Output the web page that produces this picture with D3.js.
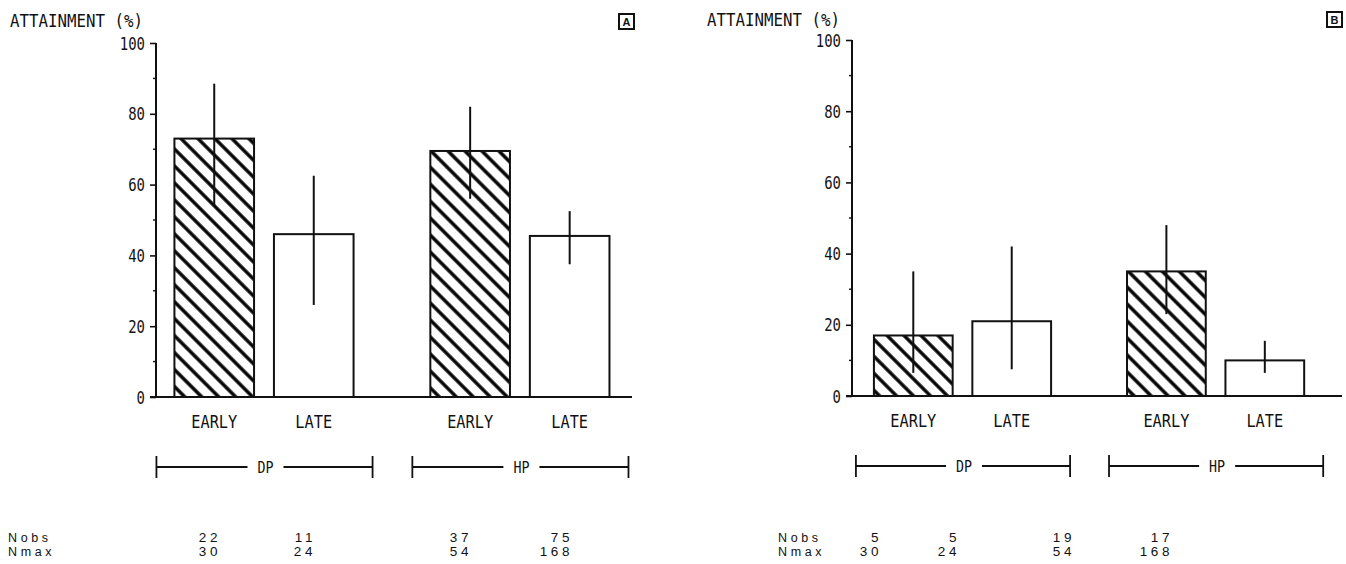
<!DOCTYPE html>
<html>
<head>
<meta charset="utf-8">
<script src="https://cdn.jsdelivr.net/npm/d3@7"></script>
<style>
  html, body { margin: 0; padding: 0; background: #fff; }
  svg { display: block; }
</style>
</head>
<body>
<svg id="chart" width="1346" height="564"></svg>
<script>
// ---- data ----
const groups = ["DP", "HP"];
const timings = ["EARLY", "LATE"];
const yTicks = [0, 20, 40, 60, 80, 100];
const yMinorTicks = [10, 30, 50, 70, 90];
const yTitle = "ATTAINMENT (%)";
const rowLabels = ["Nobs", "Nmax"];

// panel A: mean attainment with error bar limits (order: DP-EARLY, DP-LATE, HP-EARLY, HP-LATE)
const meanA = [73, 46, 69.5, 45.5];
const lowA  = [54, 26, 56, 37.5];
const highA = [88.5, 62.5, 82, 52.5];
const nobsA = [22, 11, 37, 75];
const nmaxA = [30, 24, 54, 168];

// panel B
const meanB = [17, 21, 35, 10];
const lowB  = [6.5, 7.5, 23, 6.5];
const highB = [35, 42, 48, 15.5];
const nobsB = [5, 5, 19, 17];
const nmaxB = [30, 24, 54, 168];

// ---- layout ----
const panels = [
  { tag: "A", mean: meanA, low: lowA, high: highA, nobs: nobsA, nmax: nmaxA,
    x0: 156, x1: 632, y0: 397, y1: 43, padOuter: 0.08, align: 0.45,
    titleX: 10, titleY: 27, tagX: 619, tagY: 14, rowX: 8,
    cols: [221, 316, 472, 573] },
  { tag: "B", mean: meanB, low: lowB, high: highB, nobs: nobsB, nmax: nmaxB,
    x0: 852, x1: 1342, y0: 396, y1: 40, padOuter: 0.118, align: 0.367,
    titleX: 707, titleY: 26, tagX: 1327, tagY: 12, rowX: 778,
    cols: [882, 960, 1075, 1173] }
];

const plotFont = "'DejaVu Sans Mono', 'Liberation Mono', monospace";
const tableFont = "'Liberation Sans', Arial, sans-serif";

const svg = d3.select("#chart");
const defs = svg.append("defs");

// diagonal hatch for the EARLY bars
defs.append("pattern")
  .attr("id", "hatch")
  .attr("patternUnits", "userSpaceOnUse")
  .attr("width", 12).attr("height", 12)
  .attr("patternTransform", "rotate(45)")
  .append("line")
  .attr("x1", -1).attr("y1", 6).attr("x2", 13).attr("y2", 6)
  .attr("stroke", "#000").attr("stroke-width", 3.4);

// condensed plotter-style text
function plotText(sel, str, size, advance) {
  return sel.text(str)
    .attr("font-family", plotFont)
    .attr("font-size", size)
    .attr("fill", "#111")
    .attr("textLength", str.length * advance)
    .attr("lengthAdjust", "spacingAndGlyphs");
}

panels.forEach(p => {
  const g = svg.append("g");
  const keys = [];
  groups.forEach(gr => timings.forEach(t => keys.push({ group: gr, timing: t })));
  const rows = keys.map((k, i) => ({ ...k, mean: p.mean[i], low: p.low[i], high: p.high[i],
                                      nobs: p.nobs[i], nmax: p.nmax[i], col: i }));

  const y = d3.scaleLinear().domain([0, 100]).range([p.y0, p.y1]);
  const xGroup = d3.scaleBand().domain(groups).range([p.x0, p.x1])
    .paddingInner(0.3).paddingOuter(p.padOuter).align(p.align);
  const xInner = d3.scaleBand().domain(timings).range([0, xGroup.bandwidth()])
    .paddingInner(0.2).paddingOuter(0);
  const barX = d => xGroup(d.group) + xInner(d.timing);
  const barC = d => barX(d) + xInner.bandwidth() / 2;
  const colX = d3.scaleOrdinal().domain(d3.range(4)).range(p.cols);

  // y axis
  const axis = d3.axisLeft(y).tickValues(yTicks).tickSize(6).tickPadding(5)
    .tickFormat(d3.format("d"));
  const ax = g.append("g").attr("transform", `translate(${p.x0},0)`).call(axis);
  ax.select(".domain").attr("stroke", "#111").attr("stroke-width", 2)
    .attr("d", `M0,${p.y0}V${p.y1}`);
  ax.selectAll(".tick line").attr("stroke", "#111").attr("stroke-width", 1.6);
  ax.selectAll(".tick text").each(function(d) {
    plotText(d3.select(this), String(d), 17, 8.4).attr("dy", "0.36em");
  });
  g.append("g").selectAll("line").data(yMinorTicks).join("line")
    .attr("x1", p.x0 - 3).attr("x2", p.x0)
    .attr("y1", d => y(d)).attr("y2", d => y(d))
    .attr("stroke", "#111").attr("stroke-width", 1.4);

  // title and panel tag
  plotText(g.append("text").attr("x", p.titleX).attr("y", p.titleY), yTitle, 17, 9.5);
  g.append("rect").attr("x", p.tagX).attr("y", p.tagY).attr("width", 15).attr("height", 15)
    .attr("fill", "none").attr("stroke", "#111").attr("stroke-width", 2);
  g.append("text").attr("x", p.tagX + 7.5).attr("y", p.tagY + 12)
    .attr("text-anchor", "middle").attr("font-family", tableFont)
    .attr("font-weight", "bold").attr("font-size", 11).attr("fill", "#111").text(p.tag);

  // bars
  g.append("g").selectAll("rect").data(rows).join("rect")
    .attr("x", barX)
    .attr("y", d => y(d.mean))
    .attr("width", xInner.bandwidth())
    .attr("height", d => y(0) - y(d.mean))
    .attr("fill", d => d.timing === "EARLY" ? "url(#hatch)" : "#fff")
    .attr("stroke", "#111").attr("stroke-width", 2);

  // baseline
  g.append("line").attr("x1", p.x0 - 6).attr("x2", p.x1)
    .attr("y1", y(0)).attr("y2", y(0))
    .attr("stroke", "#111").attr("stroke-width", 2);

  // error bars
  g.append("g").selectAll("line").data(rows).join("line")
    .attr("x1", barC).attr("x2", barC)
    .attr("y1", d => y(d.high)).attr("y2", d => y(d.low))
    .attr("stroke", "#111").attr("stroke-width", 2);

  // category labels
  g.append("g").selectAll("text").data(rows).join("text")
    .attr("x", barC).attr("y", y(0) + 31)
    .attr("text-anchor", "middle")
    .each(function(d) { plotText(d3.select(this), d.timing, 17, 9.2); });

  // group brackets
  const by = y(0) + 70;
  groups.forEach(gr => {
    const left = xGroup(gr) - 18, right = xGroup(gr) + xGroup.bandwidth() + 19;
    const mid = (left + right) / 2;
    const b = g.append("g").attr("stroke", "#111").attr("stroke-width", 1.8);
    b.append("line").attr("x1", left).attr("x2", mid - 17).attr("y1", by).attr("y2", by);
    b.append("line").attr("x1", mid + 19).attr("x2", right).attr("y1", by).attr("y2", by);
    b.append("line").attr("x1", left).attr("x2", left).attr("y1", by - 11).attr("y2", by + 11);
    b.append("line").attr("x1", right).attr("x2", right).attr("y1", by - 11).attr("y2", by + 11);
    plotText(g.append("text").attr("x", mid + 1).attr("y", by + 6).attr("text-anchor", "middle"),
      gr, 15, 8);
  });

  // count table
  const rowY = [542, 556];
  rowLabels.forEach((lab, r) => {
    g.append("text").attr("x", p.rowX).attr("y", rowY[r])
      .attr("font-family", tableFont).attr("font-size", 12.5)
      .attr("letter-spacing", 3.6).attr("fill", "#111").text(lab);
    g.append("g").selectAll("text").data(rows).join("text")
      .attr("x", d => colX(d.col)).attr("y", rowY[r])
      .attr("text-anchor", "end")
      .attr("font-family", tableFont).attr("font-size", 13.5)
      .attr("letter-spacing", 3.6).attr("fill", "#111")
      .text(d => r === 0 ? d.nobs : d.nmax);
  });
});
</script>
</body>
</html>
